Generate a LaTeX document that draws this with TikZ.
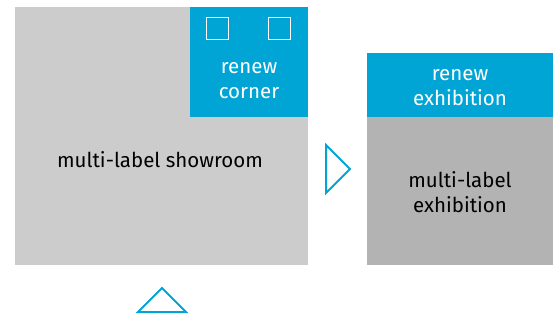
\documentclass[tikz,border=0pt]{standalone}
\usepackage{fontspec}
\setmainfont{Fira Sans}
\usepackage{xcolor}
\definecolor{renewblue}{RGB}{0, 165, 214}
\definecolor{showgray}{RGB}{204, 204, 204}
\definecolor{exhibgray}{RGB}{179, 179, 179}
\usetikzlibrary{positioning}

\begin{document}
\begin{tikzpicture}[x=1pt, y=-1pt,
        area/.style={rectangle, fill=showgray, inner sep=0pt},
        renew/.style={rectangle, fill=renewblue, inner sep=0pt, text=white, align=center, font=\fontsize{20.5}{25}\selectfont},
        areatext/.style={align=center, text=black, inner sep=0pt, font=\fontsize{20.5}{25}\selectfont},
        slot/.style={rectangle, draw=white, line width=1.2pt, minimum size=22pt, inner sep=0pt},
        pointer/.style={draw=renewblue, line width=2pt, miter limit=20}]
        \useasboundingbox (0,0) rectangle (553,322);

        \node [area, minimum width=293pt, minimum height=258pt] (showroom) at (161.5,136) {};
        \node [renew, minimum width=118pt, minimum height=110pt, anchor=north east] (corner) at (showroom.north east) {};
        \node [slot] (slotl) at (217.5,28.5) {};
        \node [slot] (slotr) at (279.5,28.5) {};
        \node [renew] (cornertext) at (249,81) {renew\\corner};
        \node [areatext] (showtext) at (160,160) {multi-label showroom};

        \node [area, fill=exhibgray, minimum width=186pt, minimum height=148pt] (exhib) at (460,191) {};
        \node [renew, minimum width=186pt, minimum height=64pt, above=0pt of exhib] (renewexhib) {};
        \node [renew, fill=none] (renewtext) at (460,88) {renew\\exhibition};
        \node [areatext] (exhibtext) at (460,192) {multi-label\\exhibition};

        % pointers
        \draw [pointer] (326,145) -- (350,169) -- (326,193) -- cycle;
        \draw [pointer] (138,312) -- (162,288) -- (186,312) -- cycle;
    \end{tikzpicture}
\end{document}
